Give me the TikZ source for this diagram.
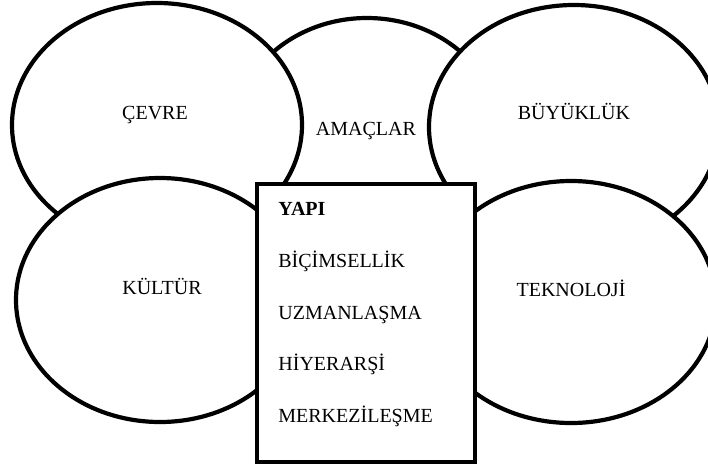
\documentclass[tikz,border=0pt]{standalone}
\usepackage{fontspec}
\setmainfont{Liberation Serif}
\usepackage{tikz}

\begin{document}
\begin{tikzpicture}[x=0.5pt,y=-0.5pt,
    oval/.style={draw,line width=2.1pt,fill=white},
    lbl/.style={anchor=base,inner sep=0pt,font=\fontsize{10}{12}\selectfont},
    item/.style={anchor=base west,inner sep=0pt,font=\fontsize{10}{12}\selectfont}]
  \useasboundingbox (0,0) rectangle (708,467);
  \clip (0,0) rectangle (708,467);

  % back row
  \draw[oval] (367,139) ellipse [x radius=67.5pt, y radius=60.5pt];
  \draw (366,135) node[lbl] (amaclar) {AMAÇLAR};

  \draw[oval] (157,125) ellipse [x radius=72.5pt, y radius=61pt];
  \draw (155,119) node[lbl] (cevre) {ÇEVRE};

  \draw[oval] (574,127) ellipse [x radius=72.5pt, y radius=61pt];
  \draw (574,119) node[lbl] (buyukluk) {BÜYÜKLÜK};

  % front row
  \draw[oval] (160,300) ellipse [x radius=72pt, y radius=61pt];
  \draw (162,294) node[lbl] (kultur) {KÜLTÜR};

  \draw[oval] (571,302) ellipse [x radius=72.5pt, y radius=60.5pt];
  \draw (571,296) node[lbl] (teknoloji) {TEKNOLOJİ};

  % structure box
  \draw[line width=2.3pt,fill=white] (257,184) rectangle (475,462);
  \draw (278,215) node[item] (yapi) {\textbf{YAPI}};
  \draw (278,267) node[item] (bicim) {BİÇİMSELLİK};
  \draw (278,319) node[item] (uzman) {UZMANLAŞMA};
  \draw (278,370) node[item] (hiyer) {HİYERARŞİ};
  \draw (278,422) node[item] (merkez) {MERKEZİLEŞME};
\end{tikzpicture}
\end{document}
